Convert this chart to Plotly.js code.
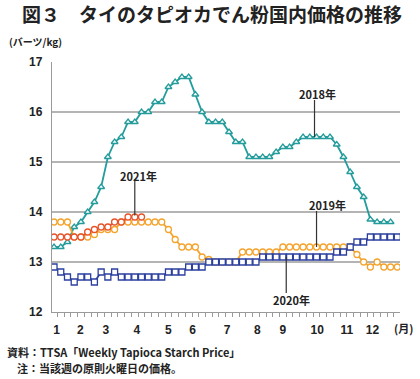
<!DOCTYPE html>
<html>
<head>
<meta charset="utf-8">
<script src="https://cdn.plot.ly/plotly-3.0.1.min.js"></script>
<style>html,body{margin:0;padding:0;background:#fff;}#chart{width:420px;height:379px;}</style>
</head>
<body>
<div id="chart"></div>
<script>
// weekly index (1..52)
const weeks = Array.from({length: 52}, (_, i) => i + 1);

const y2018 = [13.3,13.3,13.4,13.7,13.8,14.0,14.2,14.5,15.1,15.4,15.5,15.8,15.8,16.0,16.0,16.2,16.2,16.5,16.6,16.7,16.7,16.35,16.0,15.8,15.8,15.8,15.6,15.4,15.4,15.1,15.1,15.1,15.1,15.2,15.3,15.3,15.4,15.5,15.5,15.5,15.5,15.5,15.35,15.1,14.8,14.5,14.3,13.85,13.8,13.8,13.8];
const y2019 = [13.8,13.8,13.8,13.5,13.5,13.5,13.55,13.65,13.65,13.65,13.8,13.8,13.8,13.8,13.8,13.8,13.8,13.65,13.45,13.3,13.3,13.3,13.1,13.05,13.0,13.0,13.0,13.0,13.2,13.2,13.2,13.2,13.2,13.2,13.3,13.3,13.3,13.3,13.3,13.3,13.3,13.3,13.3,13.3,13.3,13.15,13.0,12.9,13.0,12.9,12.9,12.9];
const y2020 = [12.9,12.8,12.7,12.6,12.7,12.7,12.6,12.8,12.7,12.8,12.7,12.7,12.7,12.7,12.7,12.7,12.7,12.8,12.8,12.8,12.9,12.9,12.9,13.0,13.0,13.0,13.0,13.0,13.0,13.0,13.0,13.1,13.1,13.1,13.1,13.1,13.1,13.1,13.1,13.1,13.1,13.1,13.2,13.2,13.3,13.4,13.4,13.5,13.5,13.5,13.5,13.5];
const y2021 = [13.5,13.5,13.5,13.5,13.5,13.6,13.65,13.7,13.7,13.8,13.8,13.9,13.9,13.9];

const monthLabels = ['1','2','3','4','5','6','7','8','9','10','11','12'];
const monthTickPos = [1.4,4.9,8.7,13.3,18.0,21.6,26.7,31.2,35.0,40.1,44.5,48.3];

const seriesNames = ['2018年','2019年','2020年','2021年'];
const colors = ['#249c9b','#f4a32c','#2b3f9e','#e8522a'];
const symbols = ['triangle-up','circle','square','circle'];

const allY = [y2018, y2019, y2020, y2021];
const traces = allY.map((ys, i) => ({
  type: 'scatter',
  mode: 'lines+markers',
  name: seriesNames[i],
  x: weeks.slice(0, ys.length),
  y: ys,
  line: {color: colors[i], width: 1.8},
  marker: {symbol: symbols[i], size: 6, color: '#ffffff', line: {width: 1.3, color: colors[i]}},
  showlegend: false,
  hoverinfo: 'skip'
}));

const labFont = {family: 'Noto Sans CJK JP, Liberation Sans, sans-serif', size: 11, color: '#222', weight: 700};

const layout = {
  width: 420, height: 379,
  margin: {l: 52, r: 20, t: 62, b: 67},
  paper_bgcolor: '#fff', plot_bgcolor: '#fff',
  title: {
    text: '図３　タイのタピオカでん粉国内価格の推移',
    x: 22/420, xanchor: 'left', xref: 'container',
    y: 1 - 15/379, yanchor: 'middle', yref: 'container',
    font: {family: 'Noto Sans CJK JP, sans-serif', size: 19, color: '#222', weight: 700}
  },
  xaxis: {
    range: [0.7, 52.4],
    tickmode: 'array', tickvals: monthTickPos, ticktext: monthLabels,
    ticks: '', showgrid: false, zeroline: false,
    showline: true, linecolor: '#9a9a9a', linewidth: 1.2,
    tickfont: {family: 'Liberation Sans, Arial, sans-serif', size: 12, color: '#222', weight: 700},
    ticklabelstandoff: 6,
    minor: {ticks: 'outside', ticklen: 4, tickcolor: '#9a9a9a', tickwidth: 1, tickmode: 'linear', tick0: 0.5, dtick: 1, showgrid: false}
  },
  yaxis: {
    range: [12, 17], dtick: 1, tick0: 12,
    showgrid: true, gridcolor: '#b4b4b4', gridwidth: 1.3,
    zeroline: false, showline: true, linecolor: '#9a9a9a', linewidth: 1.2,
    ticks: '', ticklabelstandoff: 6,
    tickfont: {family: 'Liberation Sans, Arial, sans-serif', size: 12, color: '#222', weight: 700}
  },
  shapes: [
    {type: 'line', xref: 'x', yref: 'y', x0: 39.7, x1: 39.7, y0: 15.5, y1: 16.24, line: {color: '#333', width: 1.2}},
    {type: 'line', xref: 'x', yref: 'y', x0: 13.0, x1: 13.0, y0: 13.93, y1: 14.62, line: {color: '#333', width: 1.2}},
    {type: 'line', xref: 'x', yref: 'y', x0: 40.0, x1: 40.0, y0: 13.3, y1: 14.02, line: {color: '#333', width: 1.2}},
    {type: 'line', xref: 'x', yref: 'y', x0: 35.5, x1: 35.5, y0: 13.1, y1: 12.38, line: {color: '#333', width: 1.2}}
  ],
  annotations: [
    {xref: 'x', yref: 'y', x: 40.2, y: 16.36, text: seriesNames[0], showarrow: false, font: labFont},
    {xref: 'x', yref: 'y', x: 13.5, y: 14.72, text: seriesNames[3], showarrow: false, font: labFont},
    {xref: 'x', yref: 'y', x: 41.7, y: 14.14, text: seriesNames[1], showarrow: false, font: labFont},
    {xref: 'x', yref: 'y', x: 36.3, y: 12.24, text: seriesNames[2], showarrow: false, font: labFont},
    {xref: 'paper', yref: 'paper', x: (7-52)/348, y: (312-42)/250, xanchor: 'left', yanchor: 'middle', showarrow: false,
     text: '(バーツ/kg)', font: {family: 'Noto Sans CJK JP, sans-serif', size: 10, color: '#222', weight: 700}},
    {xref: 'paper', yref: 'paper', x: (403-52)/348, y: (312-328)/250, xanchor: 'center', yanchor: 'middle', showarrow: false,
     text: '(月)', font: {family: 'Noto Sans CJK JP, sans-serif', size: 11, color: '#222', weight: 700}},
    {xref: 'paper', yref: 'paper', x: (5-52)/348, y: (312-352)/250, xanchor: 'left', yanchor: 'middle', showarrow: false,
     text: '資料：TTSA「Weekly Tapioca Starch Price」', font: {family: 'Noto Sans CJK JP, sans-serif', size: 11, color: '#222', weight: 700}},
    {xref: 'paper', yref: 'paper', x: (15-52)/348, y: (312-368)/250, xanchor: 'left', yanchor: 'middle', showarrow: false,
     text: '注：当該週の原則火曜日の価格。', font: {family: 'Noto Sans CJK JP, sans-serif', size: 11, color: '#222', weight: 700}}
  ]
};

Plotly.newPlot('chart', traces, layout, {staticPlot: true, displayModeBar: false});
</script>
</body>
</html>
